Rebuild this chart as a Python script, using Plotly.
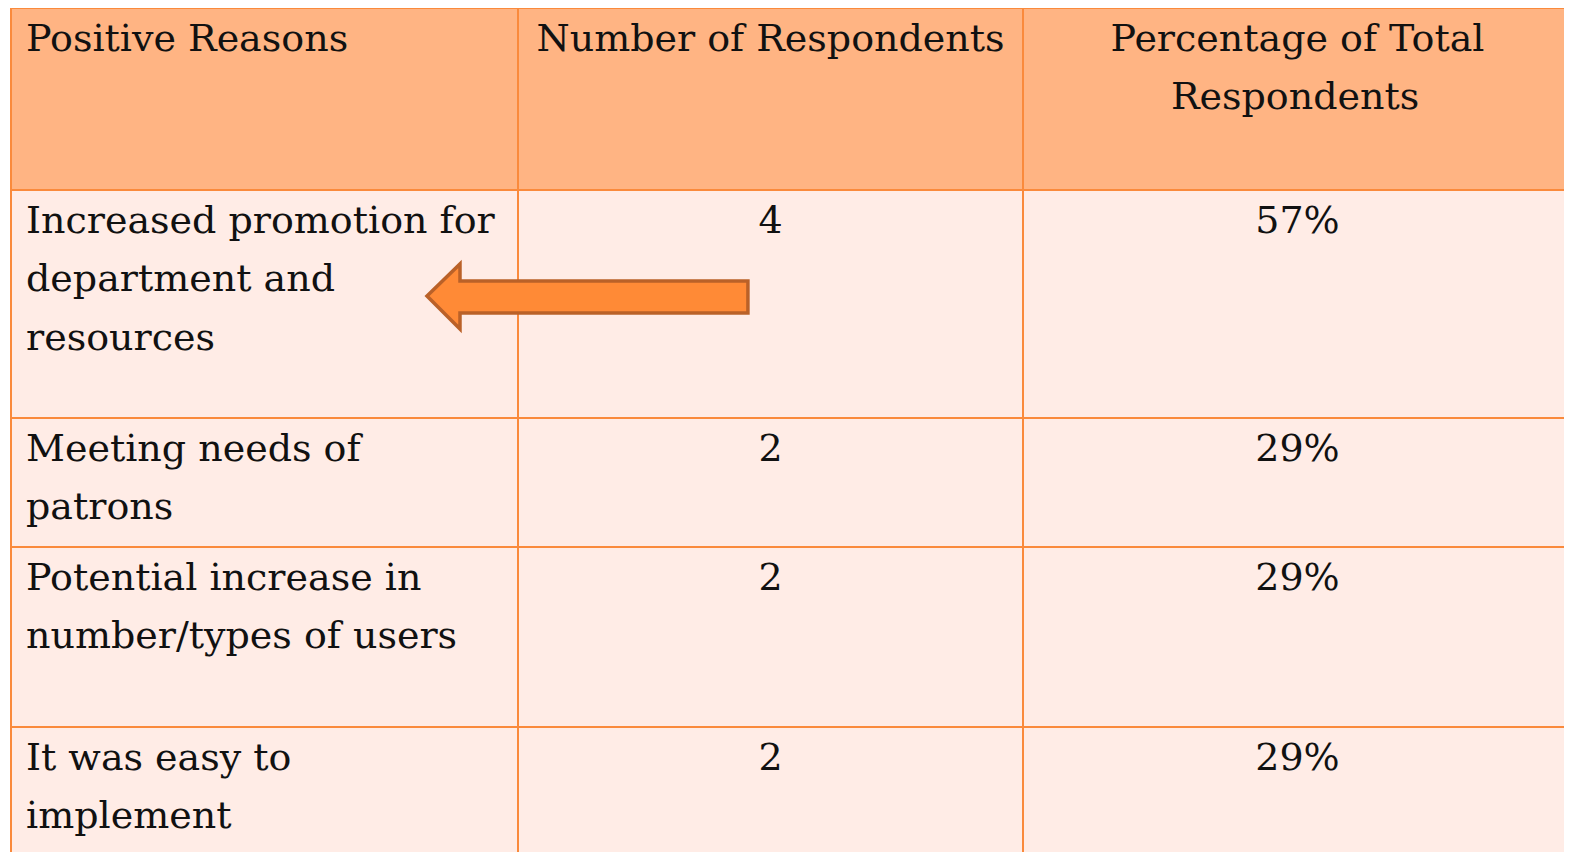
import textwrap
import plotly.graph_objects as go

# table content
header_labels = ['Positive Reasons', 'Number of Respondents', 'Percentage of Total Respondents']
reasons = [
    'Increased promotion for department and resources',
    'Meeting needs of patrons',
    'Potential increase in number/types of users',
    'It was easy to implement',
]
respondents = [4, 2, 2, 2]
percent_total = [57, 29, 29, 29]

OFF = 8  # page body margin shifts everything by 8px
W, H = 1572 - OFF, 852 - OFF
line_color = '#FA8A3C'
header_fill = '#FFB483'
cell_fill = '#FFECE6'
text_color = '#111111'
glyph_size = 38      # visible glyph size
base_size = 45       # sets the line pitch (1.3 em)
NB = '\u00a0'


def span(txt, size=glyph_size, color=None):
    style = f'font-size:{size}px'
    if color:
        style += f';color:{color}'
    return f'<span style="{style}">{txt}</span>'


def fmt(lines, blank='tiny', indent=False, lead=None):
    out = []
    for i, ln in enumerate(lines):
        pre = span(NB, 22) if indent else ''
        if lead and i < len(lead):
            pre += span(NB * lead[i])
        out.append(pre + span(ln))
    # trailing invisible line: keeps single lines from being re-wrapped
    # and pads the row height where needed
    if blank == 'tiny':
        out.append(span('.', 2, 'rgba(0,0,0,0)'))
    elif blank == 'full':
        out.append(span('.', 52, 'rgba(0,0,0,0)'))
    return '<br>'.join(out)


header_cells = [
    fmt([header_labels[0]], indent=True),
    fmt([header_labels[1]]),
    fmt(['Percentage of Total', 'Respondents'], lead=[0, 5]),
]

row_blanks = ['tiny', None, 'full', None]
col_reason = [fmt(textwrap.wrap(r, 23), b, indent=True) for r, b in zip(reasons, row_blanks)]
col_count = [fmt([str(v)]) for v in respondents]
col_pct = [fmt([f'{v}%']) for v in percent_total]

fig = go.Figure(go.Table(
    domain=dict(x=[(11 - OFF) / W, 1], y=[0, 1]),
    columnwidth=[507, 505, 549],
    header=dict(
        values=header_cells,
        fill_color=header_fill,
        line=dict(color=line_color, width=2),
        align=['left', 'center', 'center'],
        font=dict(family='DejaVu Serif', size=base_size, color=text_color),
        height=182,
    ),
    cells=dict(
        values=[col_reason, col_count, col_pct],
        fill_color=cell_fill,
        line=dict(color=line_color, width=2),
        align=['left', 'center', 'center'],
        font=dict(family='DejaVu Serif', size=base_size, color=text_color),
        height=129,
    ),
))


def px(x, y):
    return (x - OFF) / W, 1 - (y - OFF) / H


# block arrow pointing at the first reason
pts = [(427, 296), (460, 264), (460, 281), (748, 281), (748, 313), (460, 313), (460, 329)]
path = 'M ' + ' L '.join('{:.4f},{:.4f}'.format(*px(x, y)) for x, y in pts) + ' Z'
fig.add_shape(
    type='path', path=path, xref='paper', yref='paper',
    fillcolor='#FF8A36', line=dict(color='#BA6128', width=3.5),
)

fig.update_layout(
    width=W, height=H,
    margin=dict(l=0, r=0, t=0, b=0),
    paper_bgcolor='white',
)

fig.write_html('out.html')
